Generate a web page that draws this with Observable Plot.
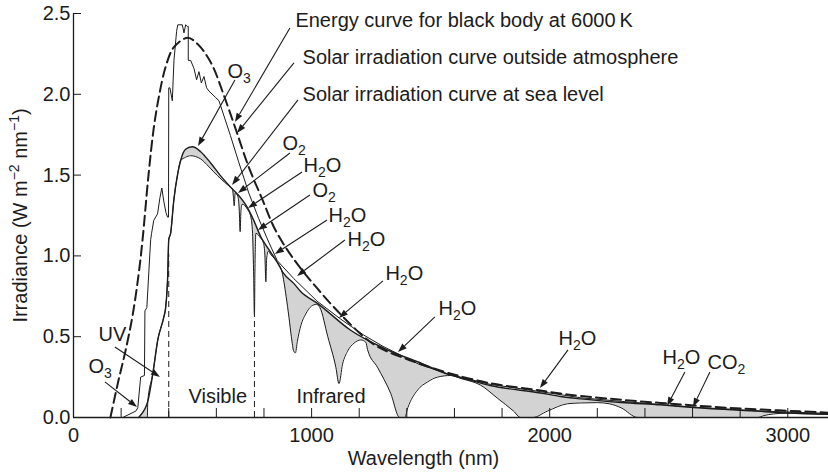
<!DOCTYPE html>
<html><head><meta charset="utf-8">
<script src="https://cdn.jsdelivr.net/npm/d3@7"></script>
<script src="https://cdn.jsdelivr.net/npm/@observablehq/plot@0.6"></script>
<style>
html,body{margin:0;padding:0;background:#fff;}
#chart{width:828px;height:475px;overflow:hidden;}
</style></head><body><div id="chart"></div>
<script>
// ---- Data ----
// Black body at 6000 K (dashed)
const bbNm  = [155,189,218,248,273,290,315,337,358,387,421,480,522,555,589,630,680,736,793,848,925,1023,1121,1219,1275,1332,1450,1571,1750,1962,2046,2131,2300,2466,2605,2750,2886,3050,3171];
const bbVal = [0,0.23,0.41,0.63,0.88,1.10,1.50,1.79,1.98,2.17,2.29,2.35,2.31,2.25,2.16,2.00,1.79,1.55,1.35,1.16,0.98,0.80,0.64,0.50,0.44,0.40,0.335,0.277,0.212,0.167,0.148,0.133,0.11,0.09,0.075,0.06,0.05,0.038,0.03];

// Solar irradiation outside atmosphere (thin solid)
const outNm  = [207,262,270,282,298,300,308,324,328,337,353,363,371,379,388,395,399,400,405,415,422,433,438,457,464,471,478,482,482,492,506,517,527,537,548,559,569,597,611,659,694,736,778,820,856,925,1023,1121,1219,1300,1450,1571,1750,1962,2131,2300,2466,2605,2886,3171];
const outVal = [0,0.04,0.06,0.25,0.26,0.66,0.68,1.10,1.14,1.22,1.26,1.36,1.42,1.34,1.27,1.24,1.24,2.04,2.04,1.96,2.21,2.39,2.43,2.43,2.38,2.43,2.42,2.42,2.21,2.21,2.16,2.09,2.14,2.07,2.11,2.04,2.02,1.98,1.96,1.745,1.58,1.39,1.23,1.085,0.97,0.86,0.72,0.61,0.51,0.44,0.33,0.27,0.205,0.16,0.122,0.10,0.08,0.064,0.04,0.025];

// Sea level, smooth envelope (top of the grey absorption bands)
const envNm  = [274,290,305,312,333,354,379,387,396,400,408,421,438,450,471,499,534,576,618,660,690,730,757,786,820,856,883,925,954,1026,1164,1302,1445,1584,1656,1750,1962,2046,2131,2300,2466,2605,2886,3000,3171];
const envVal = [0,0.03,0.07,0.10,0.27,0.48,0.62,0.68,0.89,1.10,1.14,1.34,1.51,1.59,1.66,1.675,1.645,1.575,1.495,1.425,1.38,1.30,1.22,1.12,1.04,0.96,0.89,0.83,0.78,0.705,0.54,0.43,0.345,0.262,0.235,0.198,0.152,0.13,0.115,0.093,0.078,0.062,0.038,0.028,0.02];

// Sea level, actual curve with absorption bands
const seaNm  = [274,310,312,333,354,379,387,396,400,408,421,438,450,470,492,534,560,589,620,647,660,668,672,675,679,690,696,700,703,708,730,745,752,757,760,762,766,786,798,804,808,811,818,828,856,876,893,905,915,925,932,940,955,975,1000,1020,1035,1068,1102,1115,1130,1151,1178,1207,1228,1235,1277,1332,1370,1391,1404,1445,1487,1529,1584,1630,1710,1780,1848,1878,1928,1991,2075,2130,2200,2250,2300,2370,2873,2900,2940,3000,3171];
const seaVal = [0,0,0.10,0.27,0.48,0.62,0.68,0.89,1.10,1.14,1.34,1.51,1.59,1.61,1.62,1.60,1.565,1.52,1.475,1.44,1.425,1.41,1.36,1.31,1.39,1.37,1.29,1.15,1.27,1.32,1.29,1.24,1.14,0.86,0.63,0.90,1.14,1.11,1.08,1.00,0.84,0.98,1.03,1.01,0.96,0.90,0.75,0.62,0.50,0.41,0.40,0.47,0.57,0.64,0.69,0.70,0.68,0.50,0.31,0.21,0.33,0.41,0.46,0.48,0.465,0.42,0.31,0.15,0,0,0.06,0.17,0.22,0.25,0.26,0.24,0.20,0.12,0.04,0,0,0.04,0.085,0.09,0.092,0.085,0.06,0,0,0.012,0.022,0.027,0.02];

// Band boundaries (visible / infrared) and the height where each dashed divider stops
const boundNm  = [400,760];
const boundTop = [1.01,0.63];

// Axes ticks
const xTickLabels = [0,1000,2000,3000];
const xMinorTicks = [200,400,600,800,1000,1200,1400,1600,1800,2000,2200,2400,2600,2800,3000];
const yTicks = [0,0.5,1.0,1.5,2.0,2.5];

// Annotation labels: text, x (nm), y (irradiance)
const labelText = ["Energy curve for black body at 6000\u2009K","Solar irradiation curve outside atmosphere","Solar irradiation curve at sea level","O_{2}","H_{2}O","O_{2}","H_{2}O","H_{2}O","H_{2}O","H_{2}O","H_{2}O","H_{2}O","CO_{2}","O_{3}","UV","O_{3}","Visible","Infrared"];
const labelNm   = [932,962,962,878,966,1004,1071,1151,1310,1533,2037,2474,2663,647,105,63,483,937];
const labelVal  = [2.457,2.228,1.999,1.696,1.559,1.405,1.250,1.101,0.891,0.675,0.489,0.371,0.340,2.141,0.514,0.316,0.130,0.130];

// Leader arrows: from (x1,y1) to tip (x2,y2), in data units
const arrowX1 = [911,928,945,911,962,995,1067,1142,1302,1520,2079,2570,2675,680,176,134];
const arrowY1 = [2.407,2.191,1.962,1.634,1.516,1.374,1.219,1.095,0.842,0.619,0.415,0.278,0.278,2.085,0.433,0.217];
const arrowX2 = [680,689,668,693,735,777,848,941,1117,1365,1961,2495,2604,525,365,269];
const arrowY2 = [1.825,1.757,1.436,1.386,1.293,1.157,1.009,0.873,0.613,0.402,0.179,0.068,0.062,1.677,0.248,0.062];

const xTitle = "Wavelength (nm)";
const xTitleNm = 1470;
const yTitle = "Irradiance (W m^{\u22122} nm^{\u22121})";

// ---- Build tables ----
const zip = (xs, ys) => xs.map((x, i) => ({x, y: ys[i]}));
const blackbody = zip(bbNm, bbVal);
const outside = zip(outNm, outVal);
const envelope = zip(envNm, envVal);
const sea = zip(seaNm, seaVal);
const bounds = boundNm.map((x, i) => ({x, top: boundTop[i]}));
const labels = labelText.map((t, i) => ({t, x: labelNm[i], y: labelVal[i]}));
const arrows = arrowX1.map((x1, i) => ({x1, y1: arrowY1[i], x2: arrowX2[i], y2: arrowY2[i]}));

const W = 828, H = 475, ML = 73, MR = 0, MT = 13, MB = 58;
const INK = "#1c1c1c";
const FONT = "'Liberation Sans', Arial, Helvetica, sans-serif";

function arrowsMark(...args) {
  const s = args.find(a => a && !Array.isArray(a) && typeof a.x === "function" && typeof a.y === "function");
  const g = d3.create("svg:g");
  for (const a of arrows) {
    const x1 = s.x(a.x1), y1 = s.y(a.y1), x2 = s.x(a.x2), y2 = s.y(a.y2);
    const ang = Math.atan2(y2 - y1, x2 - x1);
    const L = 9, hw = 3.2;
    const bx = x2 - L * Math.cos(ang), by = y2 - L * Math.sin(ang);
    g.append("line").attr("x1", x1).attr("y1", y1).attr("x2", bx).attr("y2", by)
      .attr("stroke", INK).attr("stroke-width", 1.1);
    g.append("polygon")
      .attr("points", `${x2},${y2} ${bx - hw * Math.sin(ang)},${by + hw * Math.cos(ang)} ${bx + hw * Math.sin(ang)},${by - hw * Math.cos(ang)}`)
      .attr("fill", INK);
  }
  return g.node();
}

const plot = Plot.plot({
  width: W, height: H,
  marginLeft: ML, marginRight: MR, marginTop: MT, marginBottom: MB,
  x: {domain: [0, 3171]},
  y: {domain: [0, 2.5]},
  style: {fontFamily: FONT, fontSize: "20px", color: INK, background: "#fff", overflow: "visible"},
  marks: [
    Plot.areaY(envelope, {x: "x", y: "y", fill: "#d3d3d3", curve: "monotone-x"}),
    Plot.areaY(sea, {x: "x", y: "y", fill: "#ffffff", curve: "monotone-x"}),
    Plot.line(envelope, {x: "x", y: "y", stroke: INK, strokeWidth: 1.4, curve: "monotone-x"}),
    Plot.line(sea, {x: "x", y: "y", stroke: INK, strokeWidth: 1, curve: "monotone-x"}),
    Plot.line(outside, {x: "x", y: "y", stroke: INK, strokeWidth: 1, curve: "linear"}),
    Plot.line(blackbody, {x: "x", y: "y", stroke: INK, strokeWidth: 2, strokeDasharray: "10,5", curve: "catmull-rom"}),
    Plot.ruleX(bounds, {x: "x", y1: 0, y2: "top", stroke: INK, strokeWidth: 1, strokeDasharray: "6,4"}),
    Plot.ruleY([0], {stroke: INK, strokeWidth: 1.3}),
    Plot.ruleX([0], {stroke: INK, strokeWidth: 1.3}),
    Plot.tickX(xMinorTicks, {x: d => d, stroke: INK, insetTop: H - MT - MB - 9}),
    Plot.tickY(yTicks.filter(d => d > 0), {y: d => d, stroke: INK, insetRight: W - ML - MR - 8}),
    Plot.axisX({ticks: xTickLabels, tickSize: 0, tickPadding: 10, tickFormat: d => String(d), label: null, fill: INK}),
    Plot.axisY({ticks: yTicks, tickSize: 0, tickPadding: 3, tickFormat: d3.format(".1f"), label: null, fill: INK}),
    Plot.text(labels, {x: "x", y: "y", text: "t", textAnchor: "start", lineAnchor: "middle", fill: INK}),
    arrowsMark,
    Plot.text([xTitle], {x: () => xTitleNm, text: d => d, frameAnchor: "bottom", lineAnchor: "middle", textAnchor: "middle", dy: 41, fill: INK}),
    Plot.text([yTitle], {text: d => d, frameAnchor: "left", textAnchor: "middle", lineAnchor: "middle", dx: -53, rotate: -90, fill: INK})
  ]
});

// Rich text: _{...} subscript, ^{...} superscript
(function richify(svg) {
  const ns = "http://www.w3.org/2000/svg";
  svg.querySelectorAll("text").forEach(t => {
    const s = t.textContent;
    if (!/[_^]\{/.test(s)) return;
    t.textContent = "";
    let cur = 0;
    const add = (txt, size, target) => {
      if (!txt) return;
      const ts = document.createElementNS(ns, "tspan");
      ts.textContent = txt;
      if (size) ts.setAttribute("font-size", size);
      const dy = target - cur;
      if (dy) ts.setAttribute("dy", dy);
      cur = target;
      t.appendChild(ts);
    };
    const re = /([_^])\{([^}]*)\}/g;
    let last = 0, m;
    while ((m = re.exec(s))) {
      add(s.slice(last, m.index), null, 0);
      add(m[2], 14, m[1] === "_" ? 5 : -8);
      last = re.lastIndex;
    }
    add(s.slice(last), null, 0);
  });
})(plot);

document.getElementById("chart").appendChild(plot);
</script></body></html>
